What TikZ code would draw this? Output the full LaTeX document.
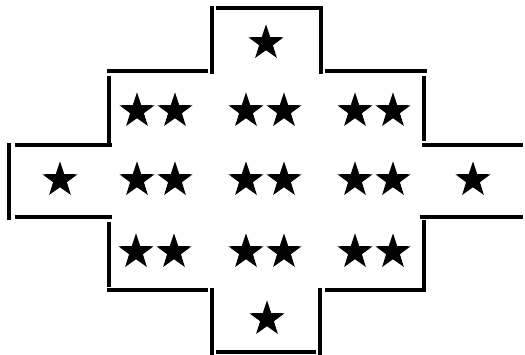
\documentclass[tikz,border=0pt]{standalone}
\usetikzlibrary{shapes.geometric}

\begin{document}
\begin{tikzpicture}[
  x=1pt, y=-1pt,
  mark5/.style={star, star points=5, star point ratio=2.55, fill=black, draw=none, inner sep=0pt, minimum size=37pt},
  wall/.style={line width=3.6pt}
]
\useasboundingbox (0,0) rectangle (525,355);

% outline, top arm
\draw[wall] (216,8) -- (319,8);
\draw[wall] (212,6) -- (212,74);
\draw[wall] (321,6) -- (321,74);
\draw[wall] (107,71) -- (208,71);
\draw[wall] (325,71) -- (427,71);
% middle part
\draw[wall] (109,76) -- (109,145);
\draw[wall] (424,76) -- (424,141);
\draw[wall] (15,145) -- (112,145);
\draw[wall] (422,145) -- (523,145);
\draw[wall] (9,143) -- (9,220);
\draw[wall] (15,217) -- (112,217);
\draw[wall] (420,217) -- (523,217);
\draw[wall] (109,222) -- (109,287);
\draw[wall] (424,220) -- (424,288);
% bottom arm
\draw[wall] (107,290) -- (208,290);
\draw[wall] (325,290) -- (426,290);
\draw[wall] (212,288) -- (212,355);
\draw[wall] (320,288) -- (320,355);
\draw[wall] (216,352) -- (316,352);

% stars
\node[mark5] (top) at (266,43) {};

\node[mark5] (a1) at (137,111) {};
\node[mark5] (a2) at (175,111) {};
\node[mark5] (a3) at (246,111) {};
\node[mark5] (a4) at (284,111) {};
\node[mark5] (a5) at (355,111) {};
\node[mark5] (a6) at (393,111) {};

\node[mark5] (west) at (60,180) {};
\node[mark5] (b1) at (137,180) {};
\node[mark5] (b2) at (175,180) {};
\node[mark5] (b3) at (246,180) {};
\node[mark5] (b4) at (284,180) {};
\node[mark5] (b5) at (355,180) {};
\node[mark5] (b6) at (393,180) {};
\node[mark5] (east) at (473,180) {};

\node[mark5] (c1) at (136,252) {};
\node[mark5] (c2) at (174,252) {};
\node[mark5] (c3) at (246,252) {};
\node[mark5] (c4) at (284,252) {};
\node[mark5] (c5) at (355,252) {};
\node[mark5] (c6) at (393,252) {};

\node[mark5] (bottom) at (267,319) {};
\end{tikzpicture}
\end{document}
